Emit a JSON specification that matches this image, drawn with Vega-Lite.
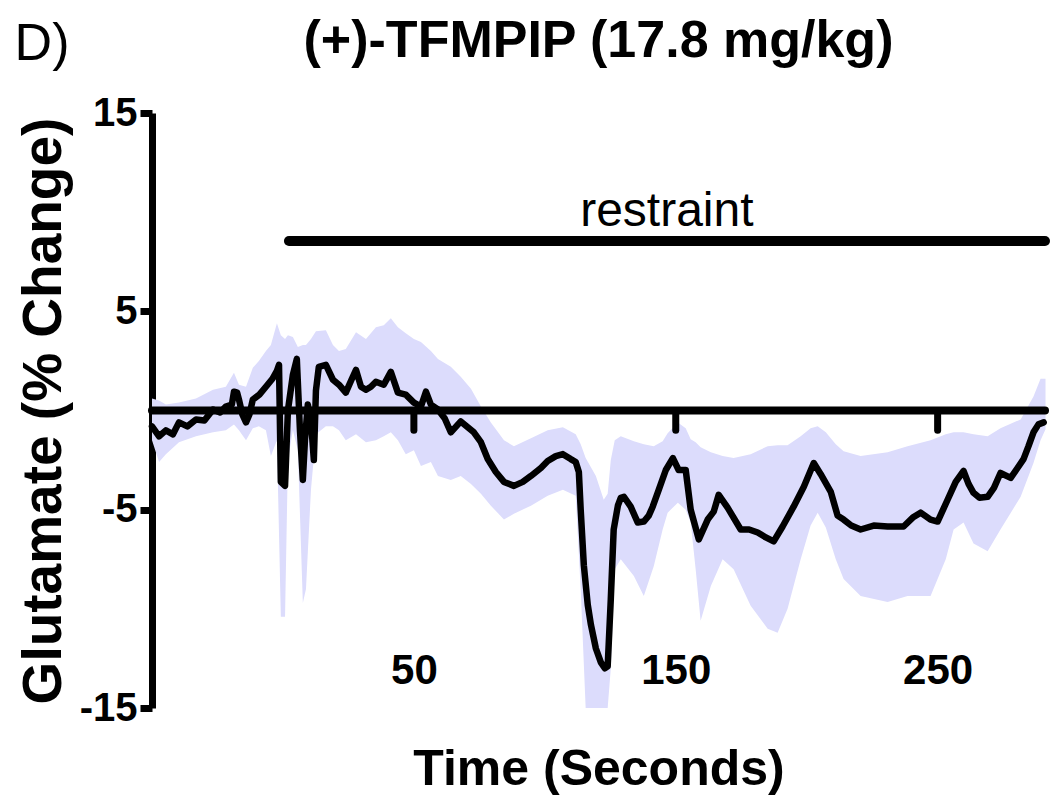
{
  "$schema": "https://vega.github.io/schema/vega-lite/v6.json",
  "width": 893,
  "height": 595,
  "autosize": {"type": "none"},
  "padding": {"left": 152, "top": 113, "right": 5, "bottom": 91},
  "background": "white",
  "config": {"view": {"stroke": null}},
  "title": {
    "text": "(+)-TFMPIP (17.8 mg/kg)",
    "font": "Liberation Sans",
    "fontSize": 52,
    "fontWeight": "bold",
    "color": "black",
    "anchor": "middle",
    "baseline": "alphabetic",
    "offset": -91
  },
  "datasets": {
    "band": [
      {"x": -50, "lo": -1.5, "hi": 0.6},
      {"x": -47.3, "lo": -2.6, "hi": 0.5},
      {"x": -44.7, "lo": -2.2, "hi": 0.3},
      {"x": -39.7, "lo": -1.6, "hi": 0.4},
      {"x": -33.2, "lo": -1.3, "hi": 0.6},
      {"x": -26.7, "lo": -1.1, "hi": 1.05},
      {"x": -21.8, "lo": -1.0, "hi": 1.2},
      {"x": -18.7, "lo": -0.7, "hi": 1.9},
      {"x": -16.8, "lo": -1.0, "hi": 1.3},
      {"x": -14.1, "lo": -1.5, "hi": 1.2},
      {"x": -11.5, "lo": -0.9, "hi": 2.15},
      {"x": -9.2, "lo": -0.8, "hi": 2.5},
      {"x": -6.5, "lo": -1.0, "hi": 3.0},
      {"x": -4.6, "lo": -2.3, "hi": 3.3},
      {"x": -2.3, "lo": -1.5, "hi": 4.4},
      {"x": -0.8, "lo": -10.4, "hi": 3.8},
      {"x": 0.8, "lo": -10.4, "hi": 3.6},
      {"x": 1.9, "lo": -2.5, "hi": 3.8},
      {"x": 3.8, "lo": -1.0, "hi": 3.7},
      {"x": 5.7, "lo": -2.0, "hi": 3.2},
      {"x": 7.6, "lo": -9.7, "hi": 3.3},
      {"x": 8.8, "lo": -9.0, "hi": 3.3},
      {"x": 10.7, "lo": -4.0, "hi": 3.6},
      {"x": 12.6, "lo": -1.2, "hi": 4.0},
      {"x": 16.4, "lo": -0.8, "hi": 4.05},
      {"x": 19.1, "lo": -0.8, "hi": 3.3},
      {"x": 21.4, "lo": -1.0, "hi": 3.0},
      {"x": 24.0, "lo": -1.5, "hi": 3.1},
      {"x": 27.9, "lo": -1.2, "hi": 3.95},
      {"x": 31.7, "lo": -1.6, "hi": 3.6},
      {"x": 35.5, "lo": -1.5, "hi": 4.2},
      {"x": 38.5, "lo": -1.3, "hi": 4.3},
      {"x": 41.2, "lo": -1.1, "hi": 4.65},
      {"x": 43.9, "lo": -1.5, "hi": 4.2},
      {"x": 46.9, "lo": -2.2, "hi": 3.9},
      {"x": 50, "lo": -2.0, "hi": 3.6},
      {"x": 52.7, "lo": -2.8, "hi": 3.45},
      {"x": 56.5, "lo": -2.6, "hi": 3.0},
      {"x": 59.2, "lo": -3.3, "hi": 2.6},
      {"x": 64.1, "lo": -3.5, "hi": 2.2},
      {"x": 67.9, "lo": -3.3, "hi": 1.7},
      {"x": 71.8, "lo": -3.7, "hi": 1.1},
      {"x": 75.6, "lo": -4.2, "hi": 0.2},
      {"x": 79.4, "lo": -4.8, "hi": -0.6},
      {"x": 84.4, "lo": -5.5, "hi": -1.5},
      {"x": 88.2, "lo": -5.2, "hi": -1.8},
      {"x": 94.7, "lo": -4.8, "hi": -1.4},
      {"x": 101.1, "lo": -4.3, "hi": -1.0},
      {"x": 106.9, "lo": -4.0, "hi": -0.85},
      {"x": 111.8, "lo": -4.3, "hi": -1.2},
      {"x": 113.7, "lo": -9.0, "hi": -1.7},
      {"x": 115.6, "lo": -15, "hi": -2.4},
      {"x": 119.5, "lo": -15, "hi": -3.3},
      {"x": 122.5, "lo": -15, "hi": -4.5},
      {"x": 124.0, "lo": -15, "hi": -4.2},
      {"x": 125.2, "lo": -13, "hi": -2.5},
      {"x": 126.7, "lo": -8.0, "hi": -1.5},
      {"x": 129.0, "lo": -7.5, "hi": -1.3},
      {"x": 134.0, "lo": -8.35, "hi": -1.55},
      {"x": 137.8, "lo": -9.35, "hi": -1.7},
      {"x": 141.6, "lo": -7.85, "hi": -1.8},
      {"x": 145.0, "lo": -6.0, "hi": -1.55},
      {"x": 146.9, "lo": -5.15, "hi": -1.15},
      {"x": 150.8, "lo": -4.65, "hi": -0.6},
      {"x": 153.8, "lo": -5.0, "hi": -0.9},
      {"x": 155.7, "lo": -5.65, "hi": -1.45},
      {"x": 157.6, "lo": -8.0, "hi": -1.6},
      {"x": 159.5, "lo": -10.6, "hi": -1.85},
      {"x": 163.4, "lo": -8.85, "hi": -2.1},
      {"x": 167.9, "lo": -7.5, "hi": -2.3},
      {"x": 172.1, "lo": -8.0, "hi": -2.4},
      {"x": 178.6, "lo": -9.85, "hi": -2.2},
      {"x": 185.1, "lo": -11.0, "hi": -1.8},
      {"x": 188.9, "lo": -11.2, "hi": -1.75},
      {"x": 192.7, "lo": -10.0, "hi": -1.75},
      {"x": 197.7, "lo": -7.5, "hi": -1.3},
      {"x": 201.5, "lo": -5.8, "hi": -0.9},
      {"x": 204.2, "lo": -5.15, "hi": -0.8},
      {"x": 207.3, "lo": -5.9, "hi": -1.1},
      {"x": 211.1, "lo": -7.5, "hi": -1.7},
      {"x": 214.1, "lo": -8.5, "hi": -2.05},
      {"x": 220.6, "lo": -9.35, "hi": -2.3},
      {"x": 230.9, "lo": -9.65, "hi": -2.1},
      {"x": 238.5, "lo": -9.35, "hi": -1.8},
      {"x": 247.3, "lo": -9.35, "hi": -1.5},
      {"x": 253.1, "lo": -7.5, "hi": -1.2},
      {"x": 256.1, "lo": -6.0, "hi": -1.1},
      {"x": 259.9, "lo": -5.65, "hi": -1.1},
      {"x": 263.7, "lo": -6.7, "hi": -1.2},
      {"x": 269.1, "lo": -7.1, "hi": -1.3},
      {"x": 274.0, "lo": -6.0, "hi": -0.9},
      {"x": 281.7, "lo": -4.35, "hi": -0.45},
      {"x": 286.6, "lo": -2.65, "hi": 0.7},
      {"x": 289.3, "lo": -1.5, "hi": 1.6},
      {"x": 291.2, "lo": -0.95, "hi": 1.6}
    ],
    "mean": [
      {"x": -50, "y": -0.8}, {"x": -47.3, "y": -1.3}, {"x": -44.7, "y": -1.0}, {"x": -42, "y": -1.2},
      {"x": -39.7, "y": -0.6}, {"x": -36.5, "y": -0.8}, {"x": -33.2, "y": -0.45}, {"x": -30, "y": -0.5},
      {"x": -26.7, "y": 0.05}, {"x": -24, "y": -0.1}, {"x": -21.8, "y": 0.2}, {"x": -19.5, "y": 0.3},
      {"x": -18.7, "y": 0.95}, {"x": -17.5, "y": 0.9}, {"x": -16.8, "y": 0.55}, {"x": -15.5, "y": -0.2},
      {"x": -14.1, "y": -0.6}, {"x": -12.8, "y": -0.2}, {"x": -11.5, "y": 0.55}, {"x": -9, "y": 0.8},
      {"x": -6.5, "y": 1.2}, {"x": -4, "y": 1.6}, {"x": -2.3, "y": 2.0}, {"x": -1.5, "y": 2.3},
      {"x": -0.8, "y": -3.6}, {"x": 0.8, "y": -3.8}, {"x": 1.9, "y": 0}, {"x": 3.8, "y": 1.8},
      {"x": 5.3, "y": 2.6}, {"x": 6.5, "y": -1}, {"x": 7.6, "y": -3.5}, {"x": 8.4, "y": -1.5},
      {"x": 9.5, "y": 0.3}, {"x": 10.7, "y": -0.5}, {"x": 11.8, "y": -2.5}, {"x": 12.6, "y": 1.0},
      {"x": 13.7, "y": 2.2}, {"x": 16.4, "y": 2.3}, {"x": 19.1, "y": 1.55}, {"x": 21.4, "y": 1.3},
      {"x": 24.0, "y": 0.9}, {"x": 26, "y": 1.5}, {"x": 27.9, "y": 2.05}, {"x": 29.8, "y": 1.2},
      {"x": 31.7, "y": 1.05}, {"x": 33.6, "y": 1.2}, {"x": 35.5, "y": 1.45}, {"x": 38.5, "y": 1.3},
      {"x": 41.2, "y": 1.95}, {"x": 43.9, "y": 0.9}, {"x": 46.9, "y": 0.8}, {"x": 50, "y": 0.4},
      {"x": 52.7, "y": 0.2}, {"x": 54.6, "y": 0.95}, {"x": 56.5, "y": 0.3}, {"x": 59.2, "y": 0.05},
      {"x": 61.8, "y": -0.4}, {"x": 64.1, "y": -1.1}, {"x": 67.9, "y": -0.55}, {"x": 72.9, "y": -1.1},
      {"x": 75.6, "y": -1.6}, {"x": 78.2, "y": -2.45}, {"x": 81.3, "y": -3.1}, {"x": 84.4, "y": -3.6},
      {"x": 88.2, "y": -3.8}, {"x": 91.6, "y": -3.6}, {"x": 94.7, "y": -3.3}, {"x": 98.5, "y": -2.9},
      {"x": 101.1, "y": -2.55}, {"x": 104.2, "y": -2.3}, {"x": 106.9, "y": -2.2}, {"x": 109.9, "y": -2.45},
      {"x": 111.8, "y": -2.6}, {"x": 113.0, "y": -3.1}, {"x": 113.7, "y": -5.0}, {"x": 114.9, "y": -7.8},
      {"x": 116.4, "y": -9.8}, {"x": 117.6, "y": -10.8}, {"x": 119.5, "y": -12.0}, {"x": 121.4, "y": -12.7},
      {"x": 122.9, "y": -13.0}, {"x": 124.0, "y": -12.9}, {"x": 125.2, "y": -9.5}, {"x": 126.3, "y": -6.0},
      {"x": 127.9, "y": -4.8}, {"x": 129.0, "y": -4.4}, {"x": 130.2, "y": -4.35}, {"x": 132.8, "y": -4.85},
      {"x": 135.5, "y": -5.65}, {"x": 137.8, "y": -5.6}, {"x": 139.7, "y": -5.3}, {"x": 141.2, "y": -4.85},
      {"x": 143.5, "y": -4.0}, {"x": 146.2, "y": -3.0}, {"x": 148.9, "y": -2.4}, {"x": 151.1, "y": -3.0},
      {"x": 153.8, "y": -3.0}, {"x": 155.7, "y": -5.0}, {"x": 158.8, "y": -6.5}, {"x": 162.2, "y": -5.5},
      {"x": 164.5, "y": -5.1}, {"x": 166.4, "y": -4.25}, {"x": 169.8, "y": -4.9}, {"x": 174.8, "y": -6.0},
      {"x": 178, "y": -6.0}, {"x": 181.3, "y": -6.15}, {"x": 184.4, "y": -6.4}, {"x": 187.4, "y": -6.6},
      {"x": 190.8, "y": -5.85}, {"x": 195.0, "y": -4.85}, {"x": 198.9, "y": -3.85}, {"x": 202.7, "y": -2.65},
      {"x": 205.3, "y": -3.2}, {"x": 209.2, "y": -4.1}, {"x": 211.8, "y": -5.3}, {"x": 214.1, "y": -5.5},
      {"x": 217, "y": -5.8}, {"x": 220.6, "y": -6.0}, {"x": 225.6, "y": -5.8}, {"x": 230.9, "y": -5.85},
      {"x": 237.0, "y": -5.85}, {"x": 240.5, "y": -5.4}, {"x": 243.5, "y": -5.15}, {"x": 247.3, "y": -5.5},
      {"x": 250.0, "y": -5.6}, {"x": 253.8, "y": -4.5}, {"x": 256.9, "y": -3.6}, {"x": 259.9, "y": -3.05},
      {"x": 261.8, "y": -3.7}, {"x": 263.7, "y": -4.15}, {"x": 266, "y": -4.4}, {"x": 269.1, "y": -4.35},
      {"x": 271.5, "y": -3.9}, {"x": 274.0, "y": -3.15}, {"x": 277.9, "y": -3.4}, {"x": 280.5, "y": -2.9},
      {"x": 282.8, "y": -2.45}, {"x": 284.7, "y": -1.8}, {"x": 286.6, "y": -1.1}, {"x": 288.5, "y": -0.7},
      {"x": 290.5, "y": -0.6}
    ],
    "zero": [{"x": -50, "x2": 291, "y": 0}],
    "xticks": [{"x": 50, "y": 0, "y2": -1.0}, {"x": 150, "y": 0, "y2": -1.0}, {"x": 250, "y": 0, "y2": -1.0}],
    "restraint": [{"x": 2.3, "x2": 291, "y": 8.55, "label": "restraint", "ly": 10}],
    "panel": [{"x": -92, "y": 18.5, "label": "D)"}]
  },
  "layer": [
    {
      "data": {"name": "band"},
      "mark": {"type": "area", "color": "#dcdcfc", "interpolate": "linear"},
      "encoding": {
        "x": {
          "field": "x", "type": "quantitative",
          "scale": {"domain": [-50, 291], "nice": false, "zero": false},
          "axis": {
            "values": [50, 150, 250],
            "domain": false,
            "ticks": false,
            "tickSize": 0,
            "grid": false,
            "labelFont": "Liberation Sans",
            "labelFontWeight": "bold",
            "labelFontSize": 42,
            "labelColor": "black",
            "labelPadding": -58,
            "labelBaseline": "top",
            "title": "Time (Seconds)",
            "titleFont": "Liberation Sans",
            "titleFontWeight": "bold",
            "titleFontSize": 50,
            "titleColor": "black",
            "titlePadding": 36
          }
        },
        "y": {
          "field": "lo", "type": "quantitative",
          "scale": {"domain": [-15, 15], "nice": false, "zero": false},
          "axis": {
            "values": [-15, -5, 5, 15],
            "labelExpr": "datum.value < 0 ? '-' + abs(datum.value) : '' + datum.value",
            "domainWidth": 7,
            "domainColor": "black",
            "tickColor": "black",
            "tickWidth": 7,
            "tickSize": 12,
            "grid": false,
            "labelFont": "Liberation Sans",
            "labelFontWeight": "bold",
            "labelFontSize": 40,
            "labelColor": "black",
            "labelPadding": 3,
            "title": "Glutamate (% Change)",
            "titleFont": "Liberation Sans",
            "titleFontWeight": "bold",
            "titleFontSize": 55,
            "titleColor": "black",
            "titlePadding": 7
          }
        },
        "y2": {"field": "hi"}
      }
    },
    {
      "data": {"name": "zero"},
      "mark": {"type": "rule", "color": "black", "strokeWidth": 8, "strokeCap": "round"},
      "encoding": {
        "x": {"field": "x", "type": "quantitative"},
        "x2": {"field": "x2"},
        "y": {"field": "y", "type": "quantitative"}
      }
    },
    {
      "data": {"name": "xticks"},
      "mark": {"type": "rule", "color": "black", "strokeWidth": 7, "strokeCap": "round"},
      "encoding": {
        "x": {"field": "x", "type": "quantitative"},
        "y": {"field": "y", "type": "quantitative"},
        "y2": {"field": "y2"}
      }
    },
    {
      "data": {"name": "mean"},
      "mark": {"type": "line", "color": "black", "strokeWidth": 6.5, "strokeJoin": "round", "strokeCap": "round"},
      "encoding": {
        "x": {"field": "x", "type": "quantitative"},
        "y": {"field": "y", "type": "quantitative"}
      }
    },
    {
      "data": {"name": "restraint"},
      "mark": {"type": "rule", "color": "black", "strokeWidth": 10, "strokeCap": "round"},
      "encoding": {
        "x": {"field": "x", "type": "quantitative"},
        "x2": {"field": "x2"},
        "y": {"field": "y", "type": "quantitative"}
      }
    },
    {
      "data": {"name": "restraint"},
      "mark": {"type": "text", "font": "Liberation Sans", "fontSize": 48, "color": "black", "baseline": "middle", "align": "center"},
      "encoding": {
        "x": {"datum": 146.6, "type": "quantitative"},
        "y": {"field": "ly", "type": "quantitative"},
        "text": {"field": "label"}
      }
    },
    {
      "data": {"name": "panel"},
      "mark": {"type": "text", "font": "Liberation Sans", "fontSize": 52, "color": "black", "baseline": "middle", "align": "center", "clip": false},
      "encoding": {
        "x": {"field": "x", "type": "quantitative"},
        "y": {"field": "y", "type": "quantitative"},
        "text": {"field": "label"}
      }
    }
  ]
}
